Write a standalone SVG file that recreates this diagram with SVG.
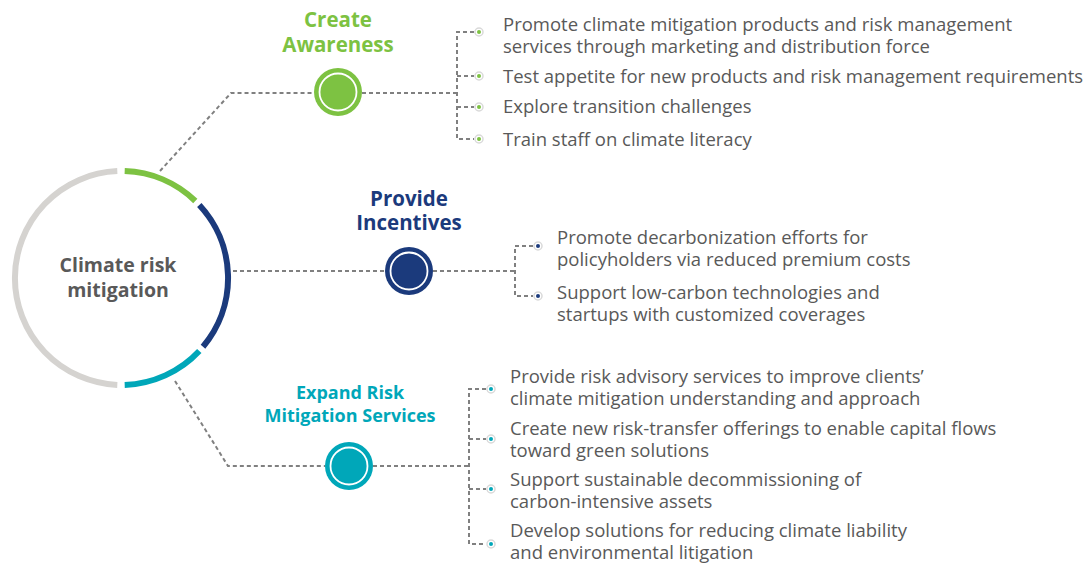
<svg xmlns="http://www.w3.org/2000/svg" width="1091" height="567" viewBox="0 0 1091 567">
<style>
.conn{fill:none;stroke:#808080;stroke-width:2;stroke-dasharray:4 3}
.txt{font-family:"Open Sans","Liberation Sans",sans-serif;font-size:18.5px;fill:#595959}
.ttl{font-family:"Open Sans","Liberation Sans",sans-serif;font-weight:bold;text-anchor:middle}
.bul{fill:#fff;stroke:#d9d9d9;stroke-width:1.5}
.arc{fill:none;stroke-width:6}
</style>
<rect width="1091" height="567" fill="#fff"/>
<g id="connectors">
<polyline class="conn" points="160,171 231,93 314,93"/>
<line class="conn" x1="362" y1="93" x2="457" y2="93"/>
<polyline class="conn" points="474,32 457,32 457,139 474,139"/>
<line class="conn" x1="457" y1="76" x2="474" y2="76"/>
<line class="conn" x1="457" y1="107" x2="474" y2="107"/>
<line class="conn" x1="233" y1="271" x2="385" y2="271"/>
<line class="conn" x1="433" y1="271" x2="515" y2="271"/>
<polyline class="conn" points="533,246 515,246 515,296 533,296"/>
<polyline class="conn" points="175,381 228,466 325,466"/>
<line class="conn" x1="373" y1="466" x2="469" y2="466"/>
<polyline class="conn" points="486,389 469,389 469,544 486,544"/>
<line class="conn" x1="469" y1="439" x2="486" y2="439"/>
<line class="conn" x1="469" y1="489" x2="486" y2="489"/>
</g>
<g id="center">
<path class="arc" stroke="#7dc242" d="M124.7,171.1 A107,107 0 0 1 195.3,201"/>
<path class="arc" stroke="#1b3a7c" d="M199.3,205 A107,107 0 0 1 203,346.8"/>
<path class="arc" stroke="#00a7b9" d="M199.3,351 A107,107 0 0 1 124.7,384.9"/>
<path class="arc" stroke="#d5d3d0" d="M117.3,384.9 A107,107 0 0 1 117.3,171.1"/>
<text class="ttl" font-size="19.5" fill="#595959" x="118" y="272">Climate risk</text>
<text class="ttl" font-size="19.5" fill="#595959" x="118" y="297">mitigation</text>
</g>
<g id="create-awareness">
<circle cx="338" cy="92" r="24" fill="#7dc242"/>
<circle cx="338" cy="92" r="18.5" fill="#7dc242" stroke="#fff" stroke-width="1.8"/>
<text class="ttl" font-size="20.5" fill="#7dc242" x="338" y="27">Create</text>
<text class="ttl" font-size="20.5" fill="#7dc242" x="338" y="52">Awareness</text>
</g>
<g id="ca-items">
<circle class="bul" cx="479" cy="32" r="4"/><circle cx="479" cy="32" r="2" fill="#7dc242"/>
<circle class="bul" cx="479" cy="76" r="4"/><circle cx="479" cy="76" r="2" fill="#7dc242"/>
<circle class="bul" cx="479" cy="107" r="4"/><circle cx="479" cy="107" r="2" fill="#7dc242"/>
<circle class="bul" cx="479" cy="139" r="4"/><circle cx="479" cy="139" r="2" fill="#7dc242"/>
<text class="txt" x="503" y="31">Promote climate mitigation products and risk management</text>
<text class="txt" x="503" y="53">services through marketing and distribution force</text>
<text class="txt" x="503" y="83">Test appetite for new products and risk management requirements</text>
<text class="txt" x="503" y="113">Explore transition challenges</text>
<text class="txt" x="503" y="146">Train staff on climate literacy</text>
</g>
<g id="provide-incentives">
<circle cx="409" cy="271" r="24" fill="#1b3a7c"/>
<circle cx="409" cy="271" r="18.5" fill="#1b3a7c" stroke="#fff" stroke-width="1.8"/>
<text class="ttl" font-size="20.5" fill="#1b3a7c" x="409" y="206">Provide</text>
<text class="ttl" font-size="20.5" fill="#1b3a7c" x="409" y="230">Incentives</text>
</g>
<g id="pi-items">
<circle class="bul" cx="538" cy="246" r="4"/><circle cx="538" cy="246" r="2" fill="#1b3a7c"/>
<circle class="bul" cx="538" cy="296" r="4"/><circle cx="538" cy="296" r="2" fill="#1b3a7c"/>
<text class="txt" x="557" y="244">Promote decarbonization efforts for</text>
<text class="txt" x="557" y="266">policyholders via reduced premium costs</text>
<text class="txt" x="557" y="299">Support low-carbon technologies and</text>
<text class="txt" x="557" y="321">startups with customized coverages</text>
</g>
<g id="expand-risk">
<circle cx="349" cy="466" r="24" fill="#00a7b9"/>
<circle cx="349" cy="466" r="18.5" fill="#00a7b9" stroke="#fff" stroke-width="1.8"/>
<text class="ttl" font-size="18" fill="#00a7b9" x="350" y="399">Expand Risk</text>
<text class="ttl" font-size="18" fill="#00a7b9" x="350" y="422">Mitigation Services</text>
</g>
<g id="er-items">
<circle class="bul" cx="491" cy="389" r="4"/><circle cx="491" cy="389" r="2" fill="#00a7b9"/>
<circle class="bul" cx="491" cy="439" r="4"/><circle cx="491" cy="439" r="2" fill="#00a7b9"/>
<circle class="bul" cx="491" cy="489" r="4"/><circle cx="491" cy="489" r="2" fill="#00a7b9"/>
<circle class="bul" cx="491" cy="544" r="4"/><circle cx="491" cy="544" r="2" fill="#00a7b9"/>
<text class="txt" x="510" y="383">Provide risk advisory services to improve clients’</text>
<text class="txt" x="510" y="405">climate mitigation understanding and approach</text>
<text class="txt" x="510" y="435">Create new risk-transfer offerings to enable capital flows</text>
<text class="txt" x="510" y="457">toward green solutions</text>
<text class="txt" x="510" y="486">Support sustainable decommissioning of</text>
<text class="txt" x="510" y="508">carbon-intensive assets</text>
<text class="txt" x="510" y="537">Develop solutions for reducing climate liability</text>
<text class="txt" x="510" y="559">and environmental litigation</text>
</g>
</svg>
